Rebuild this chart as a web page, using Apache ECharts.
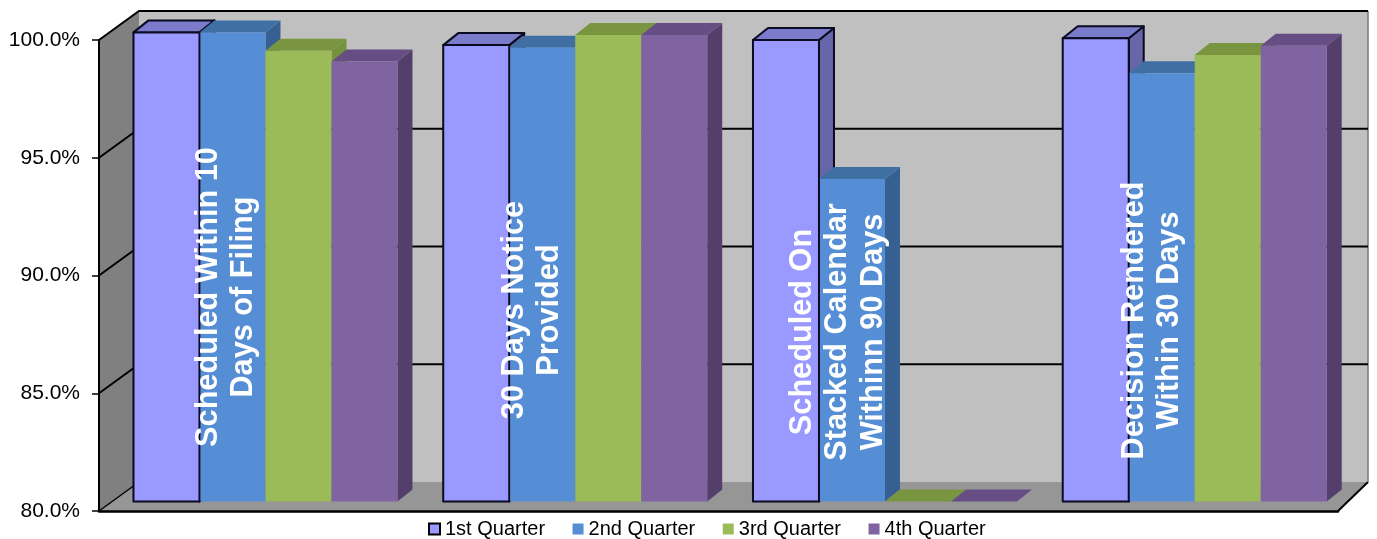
<!DOCTYPE html>
<html>
<head>
<meta charset="utf-8">
<style>html,body{margin:0;padding:0;background:#fff}#c{width:1377px;height:539px}</style>
<script src="https://cdn.jsdelivr.net/npm/echarts@6/dist/echarts.min.js"></script>
</head>
<body>
<div id="c"></div>
<script>
var categories = [
  'Scheduled Within 10\nDays of Filing',
  '30 Days Notice\nProvided',
  'Scheduled On\nStacked Calendar\nWithinn 90 Days',
  'Decision Rendered\nWithin 30 Days'
];
var quarterNames = ['1st Quarter', '2nd Quarter', '3rd Quarter', '4th Quarter'];
var q1Values = [99.92, 99.38, 99.6, 99.67];
var q2Values = [99.91, 99.27, 93.69, 98.18];
var q3Values = [99.14, 99.81, 80, 98.96];
var q4Values = [98.68, 99.81, 80, 99.35];
var yTicks = [80, 85, 90, 95, 100];

// layout and style, separate from the values
var FONT = '"Liberation Sans", Arial, sans-serif';
var WALL_DX = 40, WALL_DY = 29, FLOOR_DX = 30;
var BAR_SHIFT_X = 11.6, BAR_SHIFT_Y = 9.5, BAR_W = 66, DEPTH_X = 15, DEPTH_Y = 12;
var LABEL_POS = [[226, 297], [532, 310], [838, 332], [1152, 320.5]];
var FACE = [
  {front: '#9999FF', top: '#7B7BCB', side: '#6666A8', stroke: '#0A0A20', lw: 2},
  {front: '#558ED5', top: '#3F6FA3', side: '#376092'},
  {front: '#9BBB59', top: '#7A953F', side: '#76923C'},
  {front: '#8064A2', top: '#664D84', side: '#543E6B'}
];

function wallItem(params, api) {
  var cs = params.coordSys;
  var L = cs.x, B = cs.y + cs.height, T = cs.y;
  var R = cs.x + cs.width;
  var bx = L + WALL_DX, by = B - WALL_DY, ty = T - WALL_DY, rb = R + FLOOR_DX;
  var children = [
    {type: 'polygon', shape: {points: [[bx, ty], [rb, ty], [rb, by], [bx, by]]}, style: {fill: '#C0C0C0'}},
    {type: 'polygon', shape: {points: [[L, T], [bx, ty], [bx, by], [L, B]]}, style: {fill: '#808080'}},
    {type: 'polygon', shape: {points: [[L, B], [bx, by], [rb, by], [R, B]]}, style: {fill: '#969696'}},
    {type: 'polyline', shape: {points: [[L, B], [bx, by]]}, style: {stroke: '#000', lineWidth: 1.5, fill: 'none'}},
    {type: 'polyline', shape: {points: [[R, B], [rb, by]]}, style: {stroke: '#000', lineWidth: 2, fill: 'none'}},
    {type: 'line', shape: {x1: rb, y1: ty, x2: rb, y2: by}, style: {stroke: '#777', lineWidth: 1.5}}
  ];
  yTicks.forEach(function (t) {
    if (t === yTicks[0]) return;
    var y = api.coord([0, t])[1];
    children.push({type: 'polyline', shape: {points: [[L, y], [bx, y - WALL_DY], [rb, y - WALL_DY]]}, style: {stroke: '#000', lineWidth: 2, fill: 'none'}});
  });
  return {type: 'group', silent: true, children: children};
}

function barRenderer(q) {
  return function (params, api) {
    var i = api.value(0), v = api.value(1);
    var cx = api.coord([i, v])[0] + BAR_SHIFT_X;
    var x0 = cx + (q - 2) * BAR_W, x1 = x0 + BAR_W;
    var top = api.coord([i, v])[1] - BAR_SHIFT_Y;
    var base = api.coord([i, yTicks[0]])[1] - BAR_SHIFT_Y;
    var f = FACE[q];
    var line = f.stroke ? {stroke: f.stroke, lineWidth: f.lw, lineJoin: 'round'} : {};
    function st(fill) { return Object.assign({fill: fill}, line); }
    var fx0 = q === 1 ? x0 + 1 : x0;
    return {type: 'group', silent: true, children: [
      {type: 'polygon', shape: {points: [[x1, top], [x1 + DEPTH_X, top - DEPTH_Y], [x1 + DEPTH_X, base - DEPTH_Y], [x1, base]]}, style: st(f.side)},
      {type: 'polygon', shape: {points: [[x0, top], [x0 + DEPTH_X, top - DEPTH_Y], [x1 + DEPTH_X, top - DEPTH_Y], [x1, top]]}, style: st(f.top)},
      {type: 'polygon', shape: {points: [[fx0, top], [x1, top], [x1, base], [fx0, base]]}, style: st(f.front)}
    ]};
  };
}

function labelItem(params, api) {
  var i = api.value(0);
  return {
    type: 'text', silent: true,
    x: LABEL_POS[i][0], y: LABEL_POS[i][1], rotation: Math.PI / 2,
    style: {text: categories[i], fill: '#fff', font: 'bold 30.7px ' + FONT, lineHeight: 35.5, align: 'center', verticalAlign: 'middle'}
  };
}

function pairs(vals) { return vals.map(function (v, i) { return [i, v]; }); }
var valueLists = [q1Values, q2Values, q3Values, q4Values];

var series = [{type: 'custom', name: 'walls', data: [[0, 100]], renderItem: wallItem, encode: {x: 0, y: 1}, z: 1, silent: true}];
quarterNames.forEach(function (n, q) {
  series.push({type: 'custom', name: n, data: pairs(valueLists[q]), renderItem: barRenderer(q), encode: {x: 0, y: 1}, z: 2 + q,
    itemStyle: {color: FACE[q].front}});
});
series.push({type: 'custom', name: 'labels', data: pairs(yTicks.slice(0, 4)), renderItem: labelItem, encode: {x: 0, y: 1}, z: 8, silent: true});

var chart = echarts.init(document.getElementById('c'), null, {renderer: 'canvas'});
chart.setOption({
  animation: false,
  backgroundColor: '#fff',
  grid: {left: 99, top: 40, width: 1239, height: 471, containLabel: false},
  xAxis: {type: 'category', data: categories, z: 10,
    axisLine: {lineStyle: {color: '#000', width: 2.5}}, axisTick: {show: false}, axisLabel: {show: false}, splitLine: {show: false}},
  yAxis: {type: 'value', min: 80, max: 100, interval: 5, z: 10,
    axisLine: {show: true, lineStyle: {color: '#000', width: 2}},
    axisTick: {show: true, length: 7, lineStyle: {color: '#000', width: 1.5}},
    axisLabel: {margin: 19, padding: [4, 0, 0, 0], color: '#000', fontSize: 21, fontFamily: FONT, formatter: function (v) { return v.toFixed(1) + '%'; }},
    splitLine: {show: false}},
  legend: {
    left: 428, top: 519, padding: 0, orient: 'horizontal', itemWidth: 11, itemHeight: 11, itemGap: 27.5,
    textStyle: {color: '#000', fontSize: 20, fontFamily: FONT},
    data: quarterNames.map(function (n, q) {
      return {name: n, icon: 'rect', itemStyle: q === 0 ? {color: FACE[0].front, borderColor: '#000', borderWidth: 2} : {color: FACE[q].front, borderWidth: 0}};
    })
  },
  series: series
});
</script>
</body>
</html>
